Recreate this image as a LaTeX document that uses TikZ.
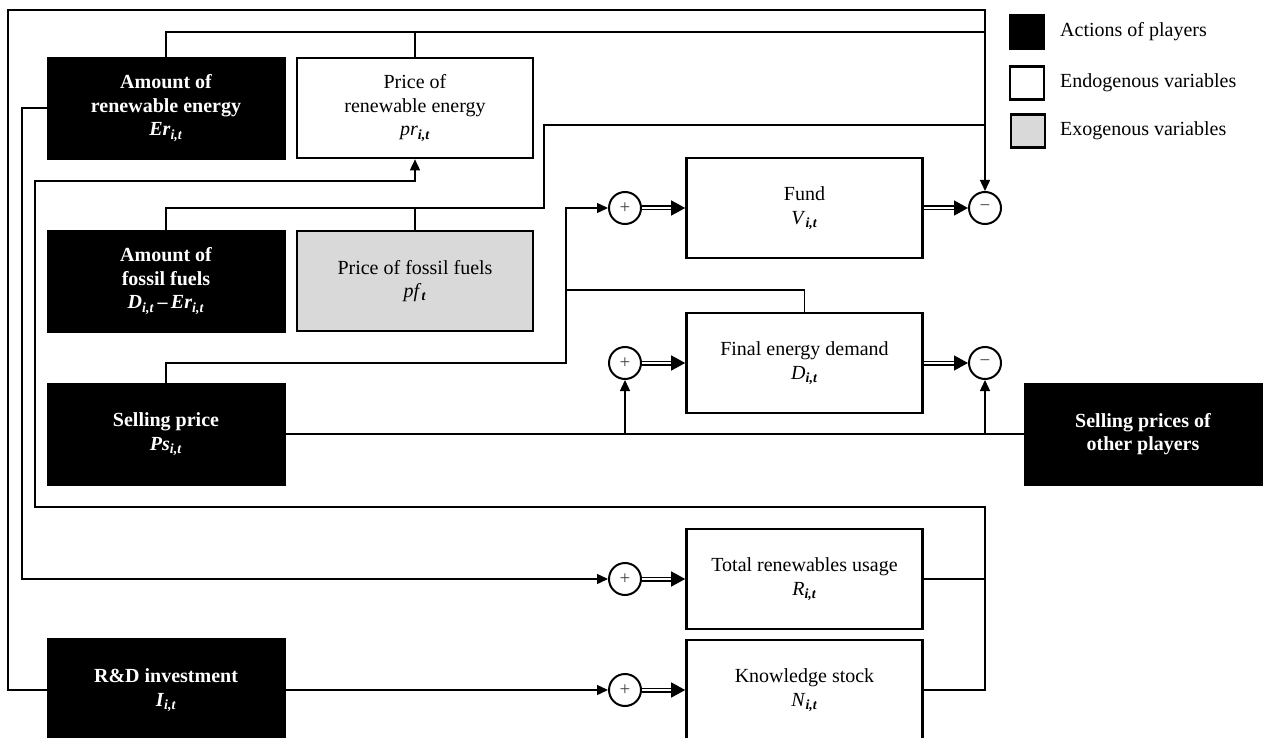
\documentclass[tikz,border=0pt]{standalone}
\usepackage{fontspec}
\setmainfont{Liberation Serif}
\usetikzlibrary{arrows.meta}
\newcommand{\subx}[1]{\textsubscript{\textbf{\textit{#1}}}}
\definecolor{exogray}{HTML}{D9D9D9}
\begin{document}
\begin{tikzpicture}[x=1pt,y=-1pt,
  every node/.style={font=\fontsize{20}{23.5}\selectfont, align=center, inner sep=0pt},
  act/.style={fill=black, draw=black, text=white, font=\fontsize{20}{23.5}\selectfont\bfseries, minimum width=238pt, minimum height=102pt},
  endo/.style={draw=black, line width=2.6pt, fill=white, minimum width=236pt, minimum height=100pt},
  exo/.style={endo, fill=exogray},
  sumc/.style={circle, draw=black, line width=2pt, fill=white, minimum size=32pt, text=black!75, font=\fontsize{19}{19}\selectfont},
  conn/.style={line width=1.4pt, line join=miter},
  arr/.style={conn, -{Triangle[length=11pt,width=10pt]}},
  dbl/.style={draw=black, double=white, double distance=2.4pt, line width=1.3pt, -{Triangle[length=14pt,width=15pt]}},
  legbox/.style={draw=black, line width=2.2pt, minimum width=34pt, minimum height=33pt},
  legtext/.style={anchor=west, font=\fontsize{20}{23}\selectfont}
]
\useasboundingbox (0,0) rectangle (1264,738);
\clip (0,0) rectangle (1264,738);
\fill[white] (0,0) rectangle (1264,738);

% boxes
\node[act]  (er)   at (166,108) {Amount of\\renewable energy\\\textit{Er}\subx{i,t}};
\node[endo] (pr)   at (415,108) {Price of\\renewable energy\\\textit{pr}\subx{i,t}};
\node[act]  (ff)   at (166,281) {Amount of\\fossil fuels\\\textit{D}\subx{i,t}\,–\,\textit{Er}\subx{i,t}};
\node[exo]  (pf)   at (415,281) {Price of fossil fuels\\\textit{pf}\subx{t}};
\node[act]  (ps)   at (166,434) {Selling price\\\textit{Ps}\subx{i,t}};
\node[act, minimum height=104pt]  (rd)   at (166,690) {R\&D investment\\\textit{I}\subx{i,t}};
\node[endo] (fund) at (804.5,208) {Fund\\\textit{V}\subx{i,t}};
\node[endo] (fed)  at (804.5,363) {Final energy demand\\\textit{D}\subx{i,t}};
\node[endo] (tru)  at (804.5,579) {Total renewables usage\\\textit{R}\subx{i,t}};
\node[endo] (ks)   at (804.5,690) {Knowledge stock\\\textit{N}\subx{i,t}};
\node[act]  (ops)  at (1143,434) {Selling prices of\\other players};

% sum circles
\node[sumc] (pF) at (625,208) {+};
\node[sumc] (mF) at (985,208) {−};
\node[sumc] (pD) at (625,363) {+};
\node[sumc] (mD) at (985,363) {−};
\node[sumc] (pR) at (625,579) {+};
\node[sumc] (pN) at (625,690) {+};

% helper coordinates
\coordinate (tl) at (8,10);
\coordinate (erl) at (22,579);
\coordinate (fbk) at (35,181);
\coordinate (rr) at (985,507);
\coordinate (kr) at (985,579);
\coordinate (top2) at (985,32);
\coordinate (fj) at (544,208);
\coordinate (top3) at (985,125);
\coordinate (psj) at (566,363);
\coordinate (psb) at (566,290);

% connectors
\draw[arr] (rd.west) -| (tl) -| (mF.north);
\draw[conn] (er.north) |- (top2);
\draw[conn] (pr.north) -- (pr.north |- top2);
\draw[conn] (ff.north) |- (fj) |- (top3);
\draw[conn] (pf.north) -- (pf.north |- fj);
\draw[arr] (ps.north) |- (psj) |- (pF.west);
\draw[conn] (psb) -| (fed.north);
\draw[conn] (ps.east) -- (ops.west);
\draw[arr] (pD.south |- ps.east) -- (pD.south);
\draw[arr] (mD.south |- ps.east) -- (mD.south);
\draw[arr] (er.west) -| (erl) -- (pR.west);
\draw[arr] (rd.east) -- (pN.west);
\draw[arr] (tru.east) -| (rr) -| (fbk) -| (pr.south);
\draw[conn] (ks.east) -| (kr);

\draw[dbl] (pF) -- (fund.west);
\draw[dbl] (fund.east) -- (mF);
\draw[dbl] (pD) -- (fed.west);
\draw[dbl] (fed.east) -- (mD);
\draw[dbl] (pR) -- (tru.west);
\draw[dbl] (pN) -- (ks.west);

% legend
\node[legbox, fill=black] (lg1) at (1027,32) {};
\node[legbox, fill=white] (lg2) at (1027,83) {};
\node[legbox, fill=exogray] (lg3) at (1028,131) {};
\node[legtext] (lt1) at (1060,32) {Actions of players};
\node[legtext] (lt2) at (1060,83) {Endogenous variables};
\node[legtext] (lt3) at (1060,131) {Exogenous variables};
\end{tikzpicture}
\end{document}
